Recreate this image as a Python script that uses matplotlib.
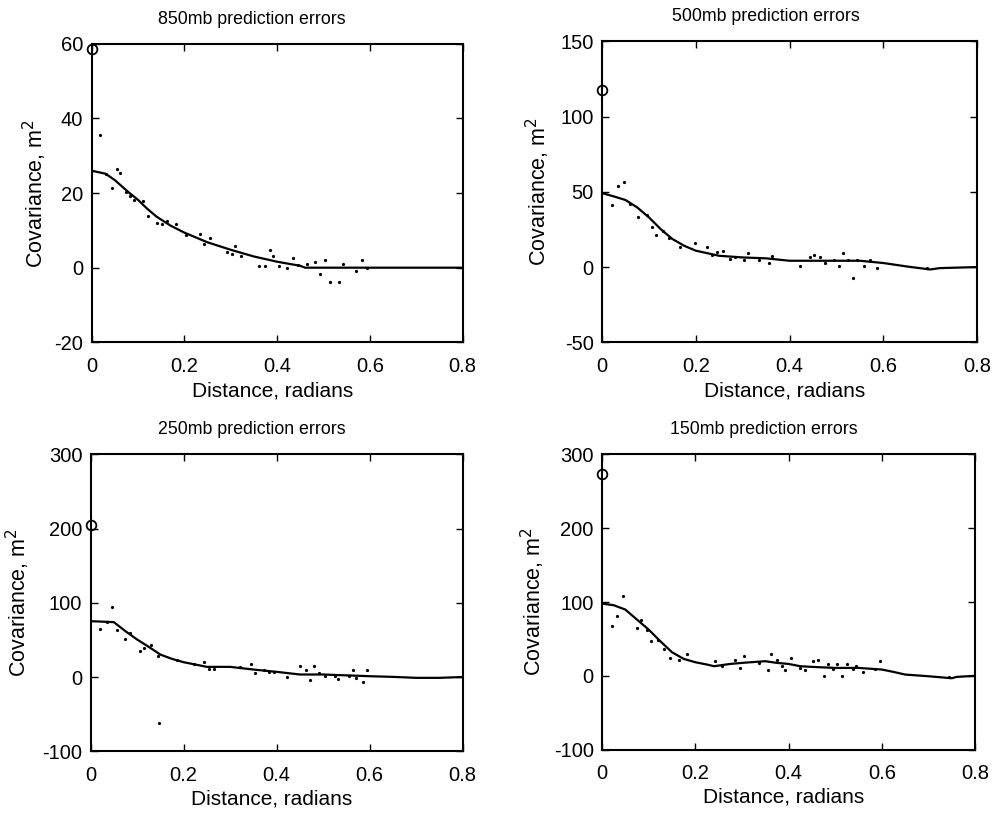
import matplotlib
matplotlib.use("Agg")
import matplotlib.pyplot as plt
import numpy as np

plt.rcParams['font.family'] = ['Liberation Sans', 'DejaVu Sans']
plt.rcParams['axes.unicode_minus'] = False

titles = ["850mb prediction errors", "500mb prediction errors",
          "250mb prediction errors", "150mb prediction errors"]
ylims = [(-20, 60), (-50, 150), (-100, 300), (-100, 300)]
yticks = [[-20, 0, 20, 40, 60], [-50, 0, 50, 100, 150],
          [-100, 0, 100, 200, 300], [-100, 0, 100, 200, 300]]
xticks = [0, 0.2, 0.4, 0.6, 0.8]
xticklabels = ['0', '0.2', '0.4', '0.6', '0.8']

# variance at zero distance (open circles)
var0 = [58.5, 117.7, 205.0, 272.9]

# 850mb
pts850_x = [0.019, 0.031, 0.045, 0.054, 0.061, 0.074, 0.083, 0.092, 0.111, 0.121,
            0.142, 0.152, 0.162, 0.182, 0.203, 0.234, 0.242, 0.255, 0.293, 0.302,
            0.310, 0.323, 0.361, 0.374, 0.384, 0.392, 0.405, 0.422, 0.435, 0.446,
            0.464, 0.482, 0.492, 0.503, 0.515, 0.533, 0.543, 0.570, 0.584, 0.594]
pts850_y = [35.7, 25.1, 21.4, 26.4, 25.3, 20.2, 19.3, 18.2, 18.0, 13.9,
            12.1, 11.6, 12.4, 11.6, 8.8, 9.0, 6.4, 7.9, 4.1, 3.7,
            5.8, 3.1, 0.5, 0.5, 4.8, 3.1, 0.5, 0.0, 2.5, 0.7,
            1.0, 1.5, -1.7, 2.1, -3.8, -3.8, 1.0, -1.0, 2.1, -0.2]
fit850_x = [0.0, 0.03, 0.05, 0.08, 0.1, 0.12, 0.14, 0.17, 0.2, 0.25, 0.3, 0.35,
            0.4, 0.45, 0.46, 0.6, 0.8]
fit850_y = [26.0, 25.2, 23.5, 20.2, 18.2, 15.8, 13.7, 11.3, 9.4, 6.8, 4.8, 3.0,
            1.6, 0.5, 0.0, 0.0, 0.0]

# 500mb
pts500_x = [0.021, 0.034, 0.048, 0.060, 0.076, 0.095, 0.107, 0.116, 0.130, 0.144,
            0.166, 0.198, 0.223, 0.235, 0.245, 0.258, 0.274, 0.283, 0.302, 0.311,
            0.334, 0.356, 0.363, 0.423, 0.444, 0.452, 0.464, 0.476, 0.494, 0.505,
            0.513, 0.525, 0.535, 0.544, 0.558, 0.572, 0.587, 0.693]
pts500_y = [41.5, 53.7, 56.3, 41.9, 33.1, 34.6, 26.9, 21.3, 24.2, 19.3,
            13.1, 16.0, 13.1, 8.3, 9.8, 10.9, 5.3, 6.9, 4.9, 9.1,
            4.9, 2.4, 7.5, 0.9, 6.9, 8.3, 6.4, 2.7, 4.9, 0.9,
            9.3, 4.7, -7.3, 4.7, 0.9, 4.7, -0.7, -0.7]
fit500_x = [0.0, 0.025, 0.05, 0.075, 0.1, 0.125, 0.15, 0.175, 0.2, 0.25, 0.3, 0.35,
            0.4, 0.45, 0.5, 0.55, 0.6, 0.65, 0.7, 0.72, 0.8]
fit500_y = [49.2, 47.0, 44.6, 39.7, 33.1, 25.3, 18.7, 14.2, 10.9, 7.5, 6.4, 5.8,
            4.2, 4.2, 4.2, 4.2, 2.7, 0.4, -1.6, -0.7, 0.0]

# 250mb
pts250_x = [0.021, 0.036, 0.047, 0.056, 0.075, 0.084, 0.106, 0.114, 0.131, 0.145,
            0.148, 0.185, 0.222, 0.243, 0.254, 0.265, 0.322, 0.345, 0.353, 0.372,
            0.384, 0.394, 0.422, 0.451, 0.464, 0.471, 0.481, 0.492, 0.504, 0.526,
            0.533, 0.555, 0.564, 0.571, 0.585, 0.594]
pts250_y = [65.0, 74.0, 94.6, 63.1, 51.5, 59.6, 35.7, 39.3, 43.8, 28.1,
            -61.8, 23.6, 18.2, 20.0, 11.0, 11.0, 13.7, 17.8, 5.6, 10.1,
            6.5, 6.5, 0.2, 14.6, 10.1, -4.3, 14.6, 5.6, 1.1, 2.0,
            -2.0, 1.1, 10.1, -1.1, -7.0, 10.1]
fit250_x = [0.0, 0.05, 0.075, 0.1, 0.125, 0.15, 0.175, 0.2, 0.225, 0.25, 0.3, 0.35,
            0.4, 0.45, 0.5, 0.6, 0.65, 0.7, 0.75, 0.8]
fit250_y = [75.3, 74.0, 61.8, 50.6, 40.7, 30.3, 24.5, 20.0, 16.9, 13.7, 13.7, 10.1,
            7.0, 3.4, 3.4, 1.1, 0.2, -1.1, -1.1, 0.0]

# 150mb
pts150_x = [0.021, 0.032, 0.045, 0.075, 0.084, 0.096, 0.106, 0.121, 0.132, 0.145,
            0.166, 0.182, 0.243, 0.257, 0.286, 0.295, 0.304, 0.336, 0.355, 0.363,
            0.376, 0.386, 0.393, 0.405, 0.424, 0.436, 0.452, 0.464, 0.475, 0.484,
            0.496, 0.504, 0.514, 0.525, 0.538, 0.545, 0.559, 0.586, 0.596, 0.743]
pts150_y = [68.1, 81.7, 108.8, 65.0, 75.4, 62.7, 46.9, 49.2, 36.5, 24.3,
            22.0, 30.2, 19.8, 13.9, 22.0, 10.7, 27.5, 17.5, 8.5, 29.7,
            22.0, 13.9, 8.5, 24.3, 10.7, 8.5, 19.8, 22.0, -0.6, 16.6,
            9.4, 16.6, -0.6, 16.6, 9.4, 13.0, 4.8, 9.4, 19.8, -1.5]
fit150_x = [0.0, 0.025, 0.05, 0.075, 0.1, 0.125, 0.15, 0.175, 0.2, 0.225, 0.24,
            0.275, 0.3, 0.35, 0.375, 0.4, 0.425, 0.45, 0.5, 0.55, 0.6, 0.625, 0.65,
            0.7, 0.75, 0.76, 0.8]
fit150_y = [97.9, 95.7, 89.8, 76.2, 62.7, 46.9, 32.0, 23.0, 18.4, 15.3, 13.0,
            16.1, 17.5, 19.8, 17.5, 16.1, 13.0, 12.1, 10.7, 10.7, 8.5, 5.3, 1.7,
            -0.6, -3.3, -1.5, 0.0]

pts_x = [pts850_x, pts500_x, pts250_x, pts150_x]
pts_y = [pts850_y, pts500_y, pts250_y, pts150_y]
fit_x = [fit850_x, fit500_x, fit250_x, fit150_x]
fit_y = [fit850_y, fit500_y, fit250_y, fit150_y]

fig = plt.figure(figsize=(9.95, 8.13), dpi=100)
positions = [[0.092, 0.579, 0.373, 0.367], [0.605, 0.579, 0.377, 0.370],
             [0.091, 0.076, 0.374, 0.365], [0.605, 0.078, 0.375, 0.363]]
ylabel_x = [-0.115, -0.132, -0.158, -0.148]
title_x = [0.178, 0.187, 0.182, 0.182]

for i in range(4):
    ax = fig.add_axes(positions[i])
    ax.plot(fit_x[i], fit_y[i], color='black', lw=1.6)
    ax.plot(pts_x[i], pts_y[i], linestyle='none', marker='o', ms=1.3,
            color='black')
    ax.plot([0], [var0[i]], linestyle='none', marker='o', ms=7, mfc='none',
            mec='black', mew=1.3, clip_on=False, zorder=5)
    ax.set_xlim(0, 0.8)
    ax.set_ylim(*ylims[i])
    ax.set_xticks(xticks)
    ax.set_xticklabels(xticklabels)
    ax.set_yticks(yticks[i])
    ax.tick_params(direction='in', top=True, right=True, length=5, width=1,
                   labelsize=14.5)
    ax.tick_params(axis='x', pad=10.5)
    ax.tick_params(axis='y', pad=6)
    for s in ax.spines.values():
        s.set_linewidth(1.5)
    ax.annotate(titles[i], xy=(title_x[i], 1.0), xycoords='axes fraction',
                xytext=(0, 20), textcoords='offset pixels',
                ha='left', va='baseline', fontsize=12.8)
    ax.set_xlabel("Distance, radians", fontsize=15)
    ax.set_ylabel("Covariance, m$^2$", fontsize=15.5)
    ax.xaxis.set_label_coords(0.487, -0.13)
    ax.yaxis.set_label_coords(ylabel_x[i], 0.5)

fig.savefig("out.png", dpi=100)
